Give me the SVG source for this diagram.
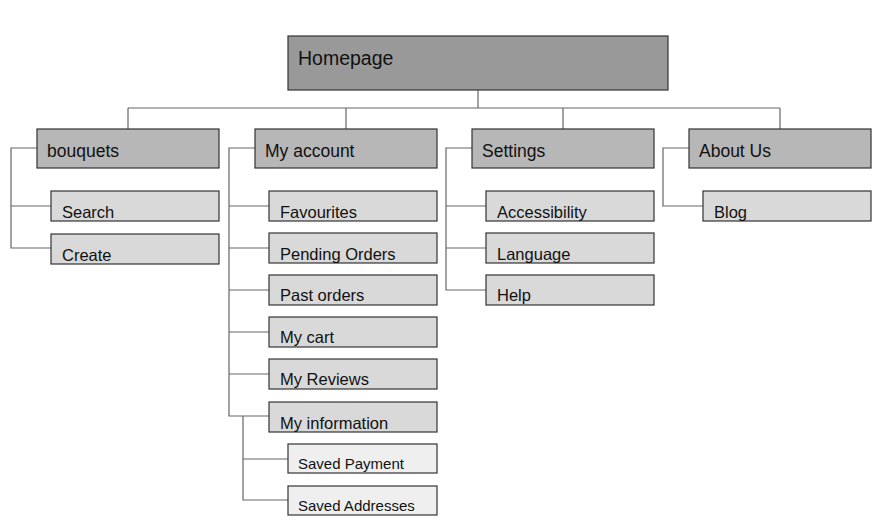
<svg xmlns="http://www.w3.org/2000/svg" width="886" height="528" viewBox="0 0 886 528">
<style>
rect{stroke:#333;stroke-width:1.2}
.l0{fill:#999999}
.l1{fill:#b7b7b7}
.l2{fill:#d9d9d9}
.l3{fill:#efefef}
text{font-family:"Liberation Sans",Arial,sans-serif;fill:#111}
.t0{font-size:19.5px}
.t1{font-size:17.5px}
.t2{font-size:16.5px}
.t3{font-size:15px}
#connectors path{fill:none;stroke:#666;stroke-width:1.2}
</style>
<rect x="0" y="0" width="886" height="528" fill="#fff" style="stroke:none"/>
<g id="connectors">
<path d="M478 90V108M128 108H780M128 108V129M346 108V129M563 108V129M780 108V129"/>
<path d="M37 148H11V248H51M11 206H51"/>
<path d="M255 148H229V416H269M229 206H269M229 248H269M229 290H269M229 332H269M229 374H269"/>
<path d="M243 416V500H288M243 459H288"/>
<path d="M472 148H446V290H486M446 206H486M446 248H486"/>
<path d="M689 148H663V206H703"/>
</g>
<g id="homepage"><rect class="l0" x="288" y="36" width="380" height="54"/><text class="t0" x="298" y="65">Homepage</text></g>
<g id="bouquets"><rect class="l1" x="37" y="129" width="182" height="39"/><text class="t1" x="47" y="157">bouquets</text></g>
<g id="myaccount"><rect class="l1" x="255" y="129" width="182" height="39"/><text class="t1" x="265" y="157">My account</text></g>
<g id="settings"><rect class="l1" x="472" y="129" width="182" height="39"/><text class="t1" x="482" y="157">Settings</text></g>
<g id="aboutus"><rect class="l1" x="689" y="129" width="182" height="39"/><text class="t1" x="699" y="157">About Us</text></g>
<g id="search"><rect class="l2" x="51" y="191" width="168" height="30"/><text class="t2" x="62" y="218">Search</text></g>
<g id="create"><rect class="l2" x="51" y="234" width="168" height="30"/><text class="t2" x="62" y="261">Create</text></g>
<g id="favourites"><rect class="l2" x="269" y="191" width="168" height="30"/><text class="t2" x="280" y="218">Favourites</text></g>
<g id="pending"><rect class="l2" x="269" y="233" width="168" height="30"/><text class="t2" x="280" y="260">Pending Orders</text></g>
<g id="past"><rect class="l2" x="269" y="275" width="168" height="30"/><text class="t2" x="280" y="301">Past orders</text></g>
<g id="cart"><rect class="l2" x="269" y="317" width="168" height="30"/><text class="t2" x="280" y="343">My cart</text></g>
<g id="reviews"><rect class="l2" x="269" y="359" width="168" height="30"/><text class="t2" x="280" y="385">My Reviews</text></g>
<g id="info"><rect class="l2" x="269" y="402" width="168" height="30"/><text class="t2" x="280" y="429">My information</text></g>
<g id="payment"><rect class="l3" x="288" y="444" width="149" height="29"/><text class="t3" x="298" y="469">Saved Payment</text></g>
<g id="addresses"><rect class="l3" x="288" y="486" width="149" height="29"/><text class="t3" x="298" y="511">Saved Addresses</text></g>
<g id="accessibility"><rect class="l2" x="486" y="191" width="168" height="30"/><text class="t2" x="497" y="218">Accessibility</text></g>
<g id="language"><rect class="l2" x="486" y="233" width="168" height="30"/><text class="t2" x="497" y="260">Language</text></g>
<g id="help"><rect class="l2" x="486" y="275" width="168" height="30"/><text class="t2" x="497" y="301">Help</text></g>
<g id="blog"><rect class="l2" x="703" y="191" width="168" height="30"/><text class="t2" x="714" y="218">Blog</text></g>
</svg>
